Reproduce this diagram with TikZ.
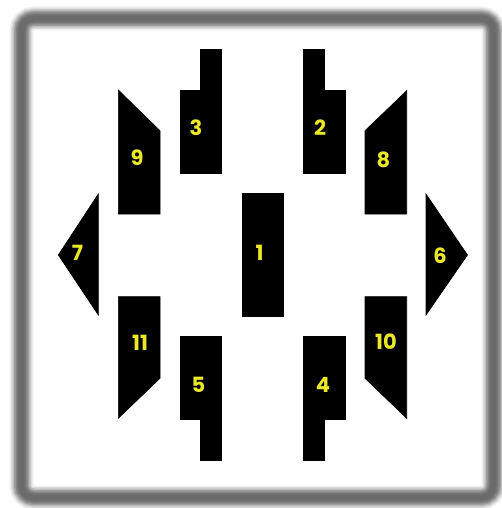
\documentclass[tikz,border=0pt]{standalone}
\usepackage{fontspec}
\setmainfont{Liberation Sans}
\newfontfamily\numfont{Poppins}
\definecolor{lab}{RGB}{235,232,40}
\begin{document}
\begin{tikzpicture}[x=1pt,y=-1pt,
  piece/.style={fill=black,draw=black,line width=0.6pt,line join=miter},
  num/.style={text=lab,font=\numfont\bfseries\fontsize{21}{21}\selectfont,inner sep=0pt}]
\useasboundingbox (0,0) rectangle (501,508);
\fill[white] (0,0) rectangle (501,508);
% blurred frame
\foreach \w/\c in {24/6,21/14,18/26,15/38,12/48,9/54,6/58}{
  \draw[line width=\w pt,color=black!\c,rounded corners=12pt] (21.5,18.5) rectangle (493.5,497.5);
}
% pieces
\fill[piece] (180,90.7) -- (200.7,90.7) -- (200.7,49.3) -- (221.7,49.3) -- (221.7,173.3) -- (180,173.3) -- cycle; % 3
\fill[piece] (345,90.7) -- (324.3,90.7) -- (324.3,49.3) -- (303.3,49.3) -- (303.3,173.3) -- (345,173.3) -- cycle; % 2
\fill[piece] (118.3,90) -- (160,130.7) -- (160,214) -- (118.3,214) -- cycle; % 9
\fill[piece] (406.7,90.7) -- (365,130.7) -- (365,214) -- (406.7,214) -- cycle; % 8
\fill[piece] (98.3,194) -- (98.3,315) -- (58.3,255) -- cycle; % 7
\fill[piece] (426,194) -- (426,315) -- (467.5,255) -- cycle; % 6
\fill[piece] (242.7,193.3) rectangle (283.3,316.7); % 1
\fill[piece] (118.3,296.7) -- (160,296.7) -- (160,378.3) -- (118.3,418.3) -- cycle; % 11
\fill[piece] (406.7,296.7) -- (365,296.7) -- (365,378.3) -- (406.7,418.3) -- cycle; % 10
\fill[piece] (180,336.7) -- (221.7,336.7) -- (221.7,460.7) -- (200.7,460.7) -- (200.7,419.3) -- (180,419.3) -- cycle; % 5
\fill[piece] (345,336.7) -- (303.3,336.7) -- (303.3,460.7) -- (324.3,460.7) -- (324.3,419.3) -- (345,419.3) -- cycle; % 4
% labels
\node[num] (n1) at (259.5,253) {1};
\node[num] (n2) at (320,128) {2};
\node[num] (n3) at (196,128) {3};
\node[num] (n4) at (323,385) {4};
\node[num] (n5) at (198.5,385) {5};
\node[num] (n6) at (440,256) {6};
\node[num] (n7) at (77.5,253) {7};
\node[num] (n8) at (383.5,160) {8};
\node[num] (n9) at (137,158) {9};
\node[num] (n10) at (386,342) {10};
\node[num] (n11) at (140,343) {11};
\end{tikzpicture}
\end{document}
